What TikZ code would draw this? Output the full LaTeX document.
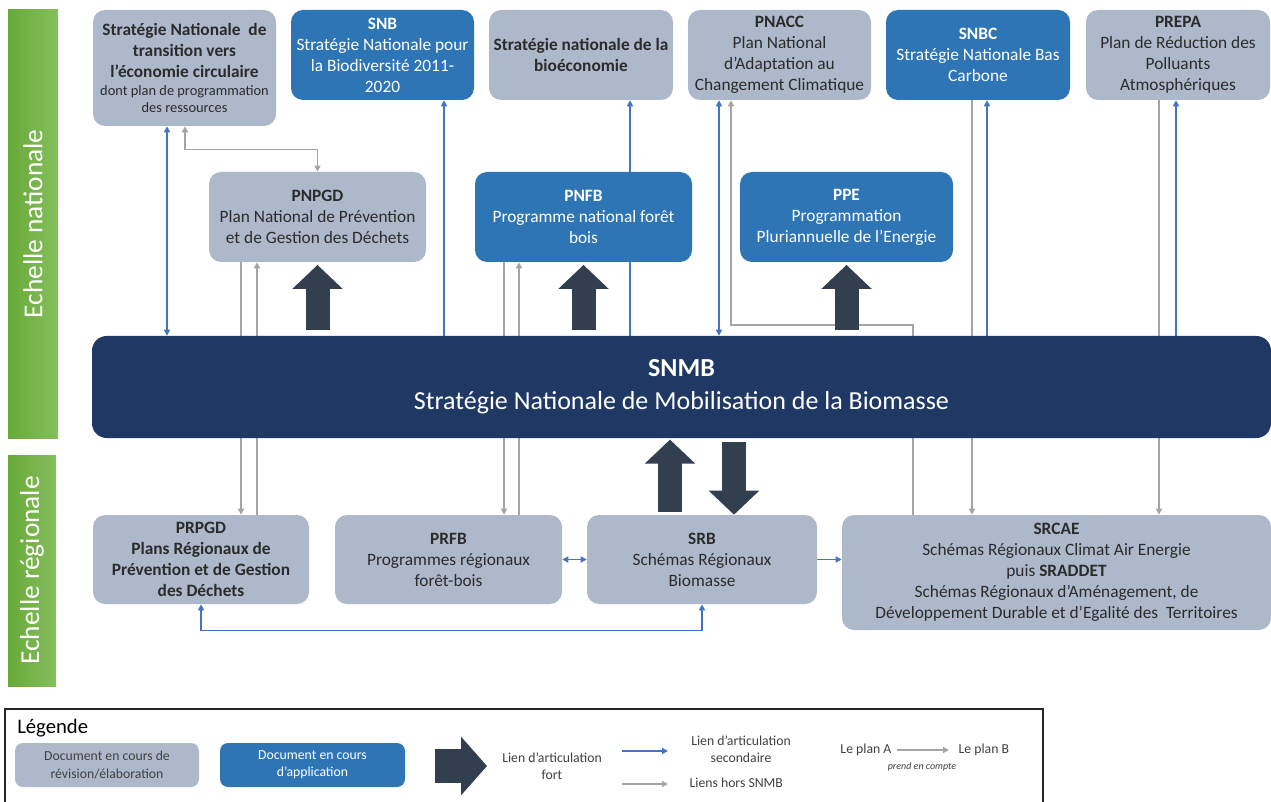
\documentclass[tikz,border=0pt]{standalone}
\usepackage{fontspec}
\setmainfont{Carlito}
\usetikzlibrary{positioning,arrows.meta}

\definecolor{boxgrey}{HTML}{ADB9CA}
\definecolor{boxblue}{HTML}{2E75B6}
\definecolor{boxnavy}{HTML}{203864}
\definecolor{fatgrey}{HTML}{323F4F}
\definecolor{linkblue}{HTML}{4472C4}
\definecolor{linkgrey}{HTML}{A5A5A5}
\definecolor{greentop}{HTML}{86BF5E}
\definecolor{greenbot}{HTML}{68A938}
\definecolor{textgrey}{HTML}{2B2B2B}
\definecolor{textlegend}{HTML}{404040}

\pgfdeclarelayer{liens}
\pgfsetlayers{liens,main}

\begin{document}
\begin{tikzpicture}
        [
            x=0.75pt, y=-0.75pt,
            >={Triangle[length=4.5pt,width=4.5pt]},
            taille/.style 2 args={minimum width=#1*0.75pt, minimum height=#2*0.75pt},
            greynode/.style={rectangle, rounded corners=9pt, fill=boxgrey, text=textgrey, align=center, inner sep=0pt, font=\fontsize{13}{15.75}\selectfont},
            bluenode/.style={greynode, fill=boxblue, text=white},
            snmbnode/.style={rectangle, rounded corners=11pt, fill=boxnavy, text=white, align=center, inner sep=0pt, font=\fontsize{19.5}{24.75}\selectfont},
            echelle/.style={rectangle, left color=greenbot, right color=greentop, text=white, rotate=90, inner sep=0pt, font=\fontsize{20.5}{24}\selectfont},
            bluelink/.style={draw=linkblue, line width=1.1pt},
            greylink/.style={draw=linkgrey, line width=1.1pt},
            fatlink/.style={draw=fatgrey, line width=18pt, -{Triangle[length=18pt,width=36.75pt]}},
            legtext/.style={align=center, text=textlegend, inner sep=1pt, font=\fontsize{10.3}{13}\selectfont},
        ]
        \useasboundingbox (0,0) rectangle (1271,802);

        %Echelles
        \node[echelle, taille={428}{50}]    (national)  at (33,224)     {Echelle nationale};
        \node[echelle, taille={231}{48}]    (regional)  at (32,570.5)   {Echelle régionale};

        %Noeuds nationaux
        \node[greynode, taille={183}{116}]  (sntec)     at (184.5,68)   {\textbf{Stratégie Nationale\ \ de}\\\textbf{transition vers}\\\textbf{l’économie circulaire}\\[-2pt]{\fontsize{10.8}{12}\selectfont dont plan de programmation}\\[-3pt]{\fontsize{10.8}{12}\selectfont des ressources}};
        \node[bluenode, taille={183}{90}]   (snb)       at (382.5,55)   {\textbf{SNB}\\Stratégie Nationale pour\\la Biodiversité 2011-\\2020};
        \node[greynode, taille={184}{90}]   (bioeco)    at (581,55)     {\textbf{Stratégie nationale de la}\\\textbf{bioéconomie}};
        \node[greynode, taille={183}{90}]   (pnacc)     at (779.5,55)   {\textbf{PNACC}\\Plan National\\d’Adaptation au\\Changement Climatique};
        \node[bluenode, taille={184}{90}]   (snbc)      at (978,55)     {\textbf{SNBC}\\Stratégie Nationale Bas\\Carbone};
        \node[greynode, taille={184}{90}]   (prepa)     at (1178,55)    {\textbf{PREPA}\\Plan de Réduction des\\Polluants\\Atmosphériques};

        \node[greynode, taille={217}{90}]   (pnpgd)     at (317.5,217)  {\textbf{PNPGD}\\Plan National de Prévention\\et de Gestion des Déchets};
        \node[bluenode, taille={217}{90}]   (pnfb)      at (583.5,217)  {\textbf{PNFB}\\Programme national forêt\\bois};
        \node[bluenode, taille={213}{90}]   (ppe)       at (846.5,217)  {\textbf{PPE}\\Programmation\\Pluriannuelle de l’Energie};

        %SNMB
        \node[snmbnode, taille={1179}{102}] (snmb)      at (681.5,387)  {\textbf{SNMB}\\Stratégie Nationale de Mobilisation de la Biomasse};

        %Noeuds regionaux
        \node[greynode, taille={216}{89}]   (prpgd)     at (201,559.5)  {\textbf{PRPGD}\\\textbf{Plans Régionaux de}\\\textbf{Prévention et de Gestion}\\\textbf{des Déchets}};
        \node[greynode, taille={227}{89}]   (prfb)      at (448.5,559.5) {\textbf{PRFB}\\Programmes régionaux\\forêt-bois};
        \node[greynode, taille={230}{89}]   (srb)       at (702,559.5)  {\textbf{SRB}\\Schémas Régionaux\\Biomasse};
        \node[greynode, taille={429}{115}]  (srcae)     at (1056.5,572.5) {\textbf{SRCAE}\\Schémas Régionaux Climat Air Energie\\puis \textbf{SRADDET}\\Schémas Régionaux d’Aménagement, de\\Développement Durable et d’Egalité des\ \ Territoires};

        %Liens (derriere les noeuds)
        \begin{pgfonlayer}{liens}
        \draw[bluelink,<->] (167,0 |- sntec.south) -- (167,0 |- snmb.north);
        \draw[bluelink,->] (444,0 |- snmb.north) -- (444,0 |- snb.south);
        \draw[bluelink,->] (630,0 |- snmb.north) -- (630,0 |- bioeco.south);
        \draw[bluelink,<->] (719,0 |- pnacc.south) -- (719,0 |- snmb.north);
        \draw[bluelink,->] (987,0 |- snmb.north) -- (987,0 |- snbc.south);
        \draw[bluelink,->] (1176,0 |- snmb.north) -- (1176,0 |- prepa.south);

        \draw[greylink,<->] (pnpgd.north) -- ++(0,-22) -| (185,0 |- sntec.south);
        \draw[greylink,->] (241,0 |- pnpgd.south) -- (241,0 |- prpgd.north);
        \draw[greylink,->] (257,0 |- prpgd.north) -- (257,0 |- pnpgd.south);
        \draw[greylink,->] (504,0 |- pnfb.south) -- (504,0 |- prfb.north);
        \draw[greylink,->] (519,0 |- prfb.north) -- (519,0 |- pnfb.south);
        \draw[greylink,->] (913,0 |- srcae.north) -- (913,325) -| (731,0 |- pnacc.south);
        \draw[greylink,->] (972,0 |- snbc.south) -- (972,0 |- srcae.north);
        \draw[greylink,->] (1159,0 |- prepa.south) -- (1159,0 |- srcae.north);

        \draw[bluelink,<->] (prfb.east) -- (srb.west);
        \draw[bluelink,->] (srb.east) -- (srcae.west |- srb.east);
        \draw[bluelink,<->] (prpgd.south) -- ++(0,26) -| (srb.south);
        \end{pgfonlayer}

        %Liens forts
        \draw[fatlink, shorten <=4pt, shorten >=2pt] (snmb.north -| pnpgd.south) -- (pnpgd.south);
        \draw[fatlink, shorten <=4pt, shorten >=2pt] (snmb.north -| pnfb.south) -- (pnfb.south);
        \draw[fatlink, shorten <=4pt, shorten >=2pt] (snmb.north -| ppe.south) -- (ppe.south);
        \draw[fatlink, shorten <=2pt, shorten >=1pt] (670,0 |- srb.north) -- (670,0 |- snmb.south);
        \draw[fatlink, shorten <=3pt, shorten >=0pt] (734,0 |- snmb.south) -- (734,0 |- srb.north);

        %Legende
        \draw[draw=black!85, line width=1.2pt] (5,802) -- (5,709) -- (1043,709) -- (1043,802);
        \node[anchor=west, inner sep=0pt, font=\fontsize{15.5}{18}\selectfont] (legende) at (17,728) {Légende};
        \node[greynode, taille={184}{44}, rounded corners=6pt, text=textlegend, font=\fontsize{10.3}{13}\selectfont] (lrevision) at (107,765) {Document en cours de\\révision/élaboration};
        \node[bluenode, taille={185}{44}, rounded corners=6pt, font=\fontsize{10.3}{13}\selectfont] (lapplication) at (312.5,765) {Document en cours\\d’application};
        \coordinate (lfortA) at (435,766);
        \coordinate (lfortB) at (487,766);
        \draw[fatlink, line width=25pt, -{Triangle[length=19.5pt,width=43pt]}] (lfortA) -- (lfortB);
        \node[legtext] (lfort) at (552,766) {Lien d’articulation\\fort};
        \coordinate (lsecA) at (622,751);
        \coordinate (lsecB) at (668,751);
        \draw[bluelink, line width=1.5pt, ->] (lsecA) -- (lsecB);
        \node[legtext] (lsecondaire) at (741,749) {Lien d’articulation\\secondaire};
        \coordinate (lhorsA) at (622,784);
        \coordinate (lhorsB) at (668,784);
        \draw[greylink, line width=1.5pt, ->] (lhorsA) -- (lhorsB);
        \node[legtext, anchor=west] (lhors) at (688,783) {Liens hors SNMB};
        \node[legtext, anchor=east] (planA) at (893,750) {Le plan A};
        \node[legtext, anchor=west] (planB) at (957,750) {Le plan B};
        \draw[greylink, shorten <=3pt, shorten >=6pt, ->] (planA) -- (planB);
        \node[legtext, font=\fontsize{7.5}{9}\selectfont\itshape] (prend) at (922,767) {prend en compte};
    \end{tikzpicture}
\end{document}
